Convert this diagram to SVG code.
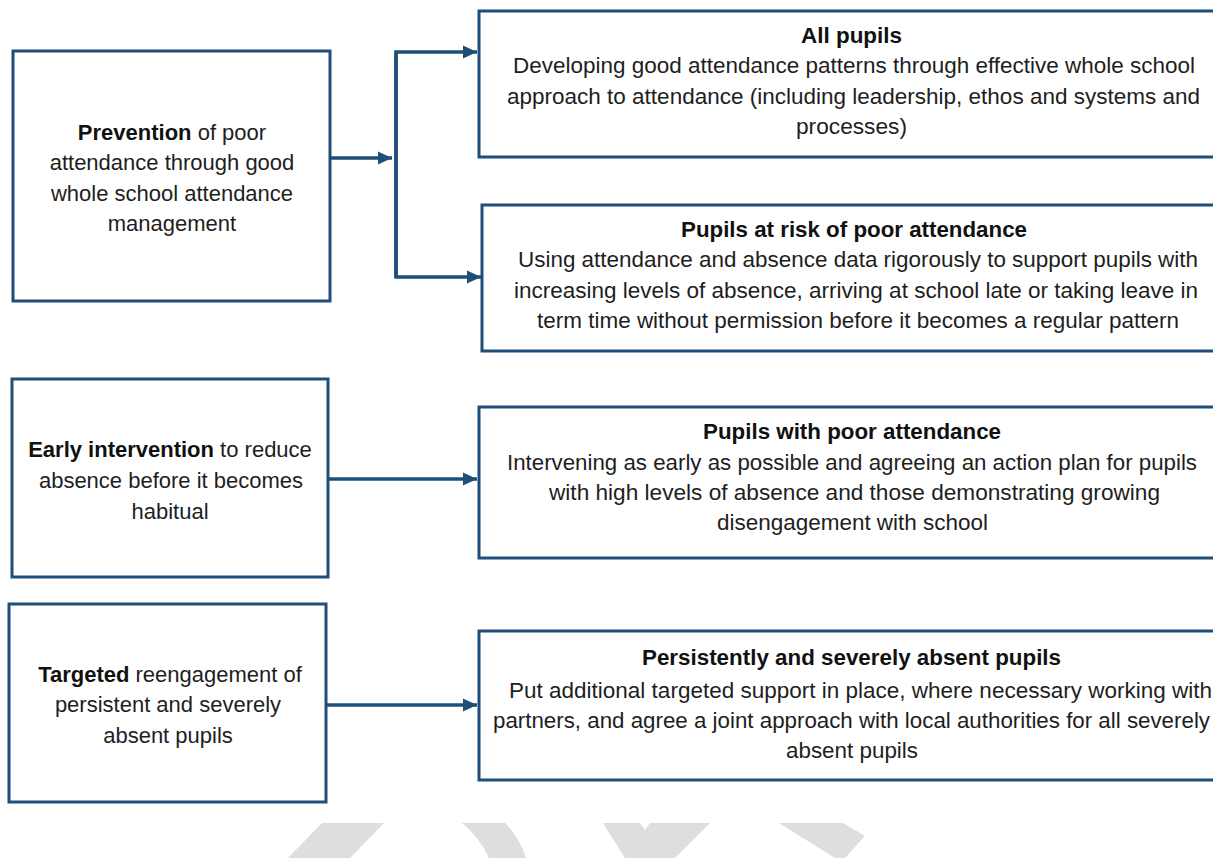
<svg xmlns="http://www.w3.org/2000/svg" width="1213" height="858" viewBox="0 0 1213 858">
<style>
.box{fill:#ffffff;stroke:#1f4e79;stroke-width:3}
.t{font-family:"Liberation Sans",Arial,sans-serif;font-size:22px;fill:#1e1e1e}
.c{text-anchor:middle}
.b{font-weight:bold;fill:#111111}
.con{fill:none;stroke:#1f4e79;stroke-width:3.5}
.wm{fill:#dedede}
</style>
<defs>
<marker id="ah" markerUnits="userSpaceOnUse" markerWidth="16" markerHeight="16" viewBox="0 0 16 16" refX="15" refY="8" orient="auto">
<path d="M1 1.5 L15 8 L1 14.5 Z" fill="#1f4e79"/>
</marker>
</defs>
<rect width="1213" height="858" fill="#ffffff"/>
<g id="watermark">
<polygon class="wm" points="322,823 384,823 350,858 288,858"/>
<path class="wm" d="M462,823 L505,823 Q520,838 526,858 L489,858 Q480,838 462,823 Z"/>
<polygon class="wm" points="603,823 640,823 645,830 650,823 710,823 675,858 625,858"/>
<polygon class="wm" points="779,823 843,823 865,836 845,858 835,858"/>
</g>
<g id="connectors">
<path class="con" d="M330 158 H392" marker-end="url(#ah)"/>
<path class="con" d="M396 277 V52 H477" marker-end="url(#ah)"/>
<path class="con" d="M396 52 V277 H481" marker-end="url(#ah)"/>
<path class="con" d="M329 479 H477" marker-end="url(#ah)"/>
<path class="con" d="M327 705 H477" marker-end="url(#ah)"/>
</g>
<g id="prevention">
<rect class="box" x="13" y="51" width="317" height="250"/>
<text class="t c" x="172" y="140"><tspan class="b">Prevention</tspan> of poor</text>
<text class="t c" x="172" y="170">attendance through good</text>
<text class="t c" x="172" y="201">whole school attendance</text>
<text class="t c" x="172" y="231">management</text>
</g>
<g id="all-pupils">
<rect class="box" x="479" y="11" width="745" height="146"/>
<text class="t b" x="801" y="43" textLength="101" lengthAdjust="spacingAndGlyphs">All pupils</text>
<text class="t" x="513" y="73" textLength="682" lengthAdjust="spacingAndGlyphs">Developing good attendance patterns through effective whole school</text>
<text class="t" x="507" y="104" textLength="693" lengthAdjust="spacingAndGlyphs">approach to attendance (including leadership, ethos and systems and</text>
<text class="t" x="796" y="134" textLength="111" lengthAdjust="spacingAndGlyphs">processes)</text>
</g>
<g id="at-risk">
<rect class="box" x="482" y="205" width="745" height="146"/>
<text class="t b" x="681" y="237" textLength="346" lengthAdjust="spacingAndGlyphs">Pupils at risk of poor attendance</text>
<text class="t" x="518" y="267" textLength="680" lengthAdjust="spacingAndGlyphs">Using attendance and absence data rigorously to support pupils with</text>
<text class="t" x="514" y="298" textLength="684" lengthAdjust="spacingAndGlyphs">increasing levels of absence, arriving at school late or taking leave in</text>
<text class="t" x="537" y="328" textLength="642" lengthAdjust="spacingAndGlyphs">term time without permission before it becomes a regular pattern</text>
</g>
<g id="early-intervention">
<rect class="box" x="12" y="379" width="316" height="198"/>
<text class="t c" x="170" y="457"><tspan class="b">Early intervention</tspan> to reduce</text>
<text class="t c" x="171" y="488">absence before it becomes</text>
<text class="t c" x="170" y="519">habitual</text>
</g>
<g id="poor-attendance">
<rect class="box" x="479" y="407" width="745" height="151"/>
<text class="t b" x="703" y="439" textLength="298" lengthAdjust="spacingAndGlyphs">Pupils with poor attendance</text>
<text class="t" x="507" y="470" textLength="690" lengthAdjust="spacingAndGlyphs">Intervening as early as possible and agreeing an action plan for pupils</text>
<text class="t" x="549" y="500" textLength="611" lengthAdjust="spacingAndGlyphs">with high levels of absence and those demonstrating growing</text>
<text class="t" x="717" y="530" textLength="271" lengthAdjust="spacingAndGlyphs">disengagement with school</text>
</g>
<g id="targeted">
<rect class="box" x="9" y="604" width="317" height="198"/>
<text class="t c" x="170" y="682"><tspan class="b">Targeted</tspan> reengagement of</text>
<text class="t c" x="168" y="712">persistent and severely</text>
<text class="t c" x="168" y="743">absent pupils</text>
</g>
<g id="persistent">
<rect class="box" x="479" y="631" width="745" height="149"/>
<text class="t b" x="642" y="665" textLength="419" lengthAdjust="spacingAndGlyphs">Persistently and severely absent pupils</text>
<text class="t" x="509" y="698" textLength="703" lengthAdjust="spacingAndGlyphs">Put additional targeted support in place, where necessary working with</text>
<text class="t" x="493" y="728" textLength="717" lengthAdjust="spacingAndGlyphs">partners, and agree a joint approach with local authorities for all severely</text>
<text class="t" x="786" y="758" textLength="132" lengthAdjust="spacingAndGlyphs">absent pupils</text>
</g>
</svg>
